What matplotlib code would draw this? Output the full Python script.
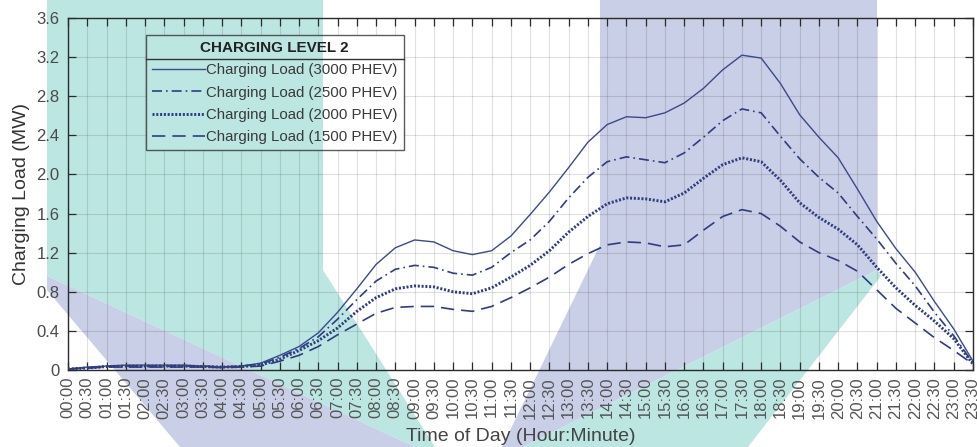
import matplotlib
matplotlib.use('Agg')
import matplotlib.pyplot as plt
from matplotlib.patches import Polygon, Rectangle
from matplotlib.lines import Line2D
import numpy as np

plt.rcParams['font.family'] = ['Liberation Sans', 'DejaVu Sans']

# ---------------- data ----------------
time_labels = ['00:00', '00:30', '01:00', '01:30', '02:00', '02:30', '03:00', '03:30',
               '04:00', '04:30', '05:00', '05:30', '06:00', '06:30', '07:00', '07:30',
               '08:00', '08:30', '09:00', '09:30', '10:00', '10:30', '11:00', '11:30',
               '12:00', '12:30', '13:00', '13:30', '14:00', '14:30', '15:00', '15:30',
               '16:00', '16:30', '17:00', '17:30', '18:00', '18:30', '19:00', '19:30',
               '20:00', '20:30', '21:00', '21:30', '22:00', '22:30', '23:00', '23:30']

load_3000 = [0.01, 0.03, 0.04, 0.05, 0.05, 0.05, 0.05, 0.04, 0.03, 0.04,
             0.07, 0.15, 0.24, 0.38, 0.59, 0.83, 1.08, 1.25, 1.33, 1.31,
             1.22, 1.18, 1.22, 1.37, 1.59, 1.82, 2.07, 2.33, 2.51, 2.59,
             2.58, 2.63, 2.73, 2.88, 3.07, 3.22, 3.19, 2.93, 2.61, 2.38,
             2.17, 1.85, 1.52, 1.24, 1.00, 0.70, 0.42, 0.09]

load_2500 = [0.01, 0.02, 0.04, 0.04, 0.04, 0.04, 0.04, 0.04, 0.03, 0.04,
             0.06, 0.13, 0.22, 0.34, 0.52, 0.72, 0.91, 1.03, 1.07, 1.05,
             0.99, 0.97, 1.05, 1.20, 1.33, 1.52, 1.76, 1.97, 2.13, 2.18,
             2.15, 2.12, 2.22, 2.38, 2.55, 2.67, 2.63, 2.39, 2.16, 1.97,
             1.81, 1.57, 1.34, 1.09, 0.86, 0.59, 0.35, 0.07]

load_2000 = [0.01, 0.02, 0.035, 0.04, 0.04, 0.04, 0.04, 0.035, 0.03, 0.035,
             0.05, 0.11, 0.20, 0.30, 0.43, 0.60, 0.74, 0.83, 0.86, 0.85,
             0.80, 0.78, 0.84, 0.95, 1.07, 1.22, 1.41, 1.57, 1.70, 1.76,
             1.75, 1.72, 1.81, 1.96, 2.10, 2.17, 2.13, 1.94, 1.71, 1.56,
             1.44, 1.28, 1.05, 0.84, 0.66, 0.50, 0.32, 0.06]

load_1500 = [0.01, 0.02, 0.03, 0.03, 0.03, 0.03, 0.03, 0.03, 0.025, 0.03,
             0.04, 0.09, 0.15, 0.24, 0.36, 0.47, 0.58, 0.64, 0.65, 0.65,
             0.62, 0.60, 0.65, 0.74, 0.84, 0.95, 1.08, 1.19, 1.28, 1.31,
             1.30, 1.26, 1.28, 1.43, 1.57, 1.64, 1.60, 1.47, 1.31, 1.20,
             1.12, 1.01, 0.82, 0.63, 0.48, 0.33, 0.20, 0.06]

series_labels = ['Charging Load (3000 PHEV)', 'Charging Load (2500 PHEV)',
                 'Charging Load (2000 PHEV)', 'Charging Load (1500 PHEV)']
legend_title = 'CHARGING LEVEL 2'
y_ticks = [0, 0.4, 0.8, 1.2, 1.6, 2.0, 2.4, 2.8, 3.2, 3.6]
y_tick_labels = ['0', '0.4', '0.8', '1.2', '1.6', '2.0', '2.4', '2.8', '3.2', '3.6']

# ---------------- figure ----------------
W, H = 977, 447
fig = plt.figure(figsize=(W / 100, H / 100), dpi=100)
fig.patch.set_facecolor('white')
ax = fig.add_axes([68 / W, 1 - 370 / H, (973 - 68) / W, (370 - 18) / H])
ax.set_zorder(2)
ax.set_facecolor('none')


def px(pts):
    return [(x / W, 1 - y / H) for x, y in pts]


TEAL = '#bce6e2'
PURPLE = '#c9cfe6'
teal_a = [(47, 0), (323, 0), (323, 270), (435, 447), (415, 447), (47, 276)]
purple_a = [(47, 276), (415, 447), (180, 447), (47, 290)]
purple_b = [(600, 0), (877, 0), (877, 270), (523, 447), (502, 447), (600, 245)]
teal_b = [(877, 270), (881, 276), (748, 447), (523, 447)]
for pts, c in [(teal_a, TEAL), (purple_a, PURPLE), (purple_b, PURPLE), (teal_b, TEAL)]:
    fig.add_artist(Polygon(px(pts), closed=True, transform=fig.transFigure,
                           facecolor=c, edgecolor='none', zorder=1))

NAVY = '#2e3d82'
x = np.arange(len(time_labels))
ax.plot(x, load_3000, color='#3a4a8c', lw=1.0, ls='-', label=series_labels[0], zorder=3)
ax.plot(x, load_2500, color=NAVY, lw=1.2, ls=(0, (6, 2.4, 1, 2.4)), label=series_labels[1], zorder=3)
ax.plot(x, load_2000, color=NAVY, lw=2.1, ls=(0, (0.7, 0.6)), label=series_labels[2], zorder=3)
ax.plot(x, load_1500, color=NAVY, lw=1.2, ls=(0, (8, 4.2)), label=series_labels[3], zorder=3)

ax.set_xlim(0, len(time_labels) - 1)
ax.set_ylim(0, 3.6)
ax.set_xticks(x)
ax.set_xticklabels(time_labels, rotation=90, fontsize=12, color='#555555')
ax.set_yticks(y_ticks)
ax.set_yticklabels(y_tick_labels, fontsize=12, color='#4a4a4a')
ax.tick_params(direction='in', top=True, right=True, length=6, width=0.9,
               color='#2b2b2b', pad=5)
ax.tick_params(axis='y', pad=6)
for s in ax.spines.values():
    s.set_color('#2b2b2b')
    s.set_linewidth(1.0)
ax.set_axisbelow(True)
ax.grid(True, color='black', alpha=0.12, lw=0.8)

ax.set_ylabel('Charging Load (MW)', fontsize=14, color='#333333', labelpad=5)
ax.set_xlabel('Time of Day (Hour:Minute)', fontsize=14, color='#444444', labelpad=7)

leg = ax.legend(loc='upper left', bbox_to_anchor=((146 - 68) / 905, (370 - 35) / 352),
                borderaxespad=0, fontsize=10.8, title=legend_title,
                title_fontproperties={'weight': 'bold', 'size': 11},
                frameon=True, fancybox=False, facecolor='none', edgecolor='#333333',
                framealpha=None, handlelength=3.5, handletextpad=0.1,
                labelspacing=0.55, borderpad=0.4)
leg.get_frame().set_linewidth(1.0)
for t in leg.get_texts():
    t.set_color('#3a3a3a')
leg.get_title().set_color('#222222')
leg.set_zorder(6)

fig.canvas.draw()
r = fig.canvas.get_renderer()
lb = leg.get_frame().get_window_extent(r)
tb = leg.get_title().get_window_extent(r)
t0 = leg.get_texts()[0].get_window_extent(r)
inv = fig.transFigure.inverted()
(fx0, fy0) = inv.transform((lb.x0, lb.y0))
(fx1, fy1) = inv.transform((lb.x1, lb.y1))
rect = Rectangle((fx0, fy0), fx1 - fx0, fy1 - fy0, transform=fig.transFigure,
                 facecolor='white', edgecolor='none', zorder=4)
ax.add_patch(rect)
tcopy = Polygon(px(teal_a), closed=True, transform=fig.transFigure,
                facecolor=TEAL, edgecolor='none', zorder=4.5)
ax.add_patch(tcopy)
tcopy.set_clip_path(rect)
ysep = (tb.y0 + t0.y1) / 2
(_, fys) = inv.transform((0, ysep))
ax.add_line(Line2D([fx0, fx1], [fys, fys], transform=fig.transFigure,
                   color='#333333', lw=1.0, zorder=7, clip_on=False))

fig.savefig('out.png', dpi=100)
